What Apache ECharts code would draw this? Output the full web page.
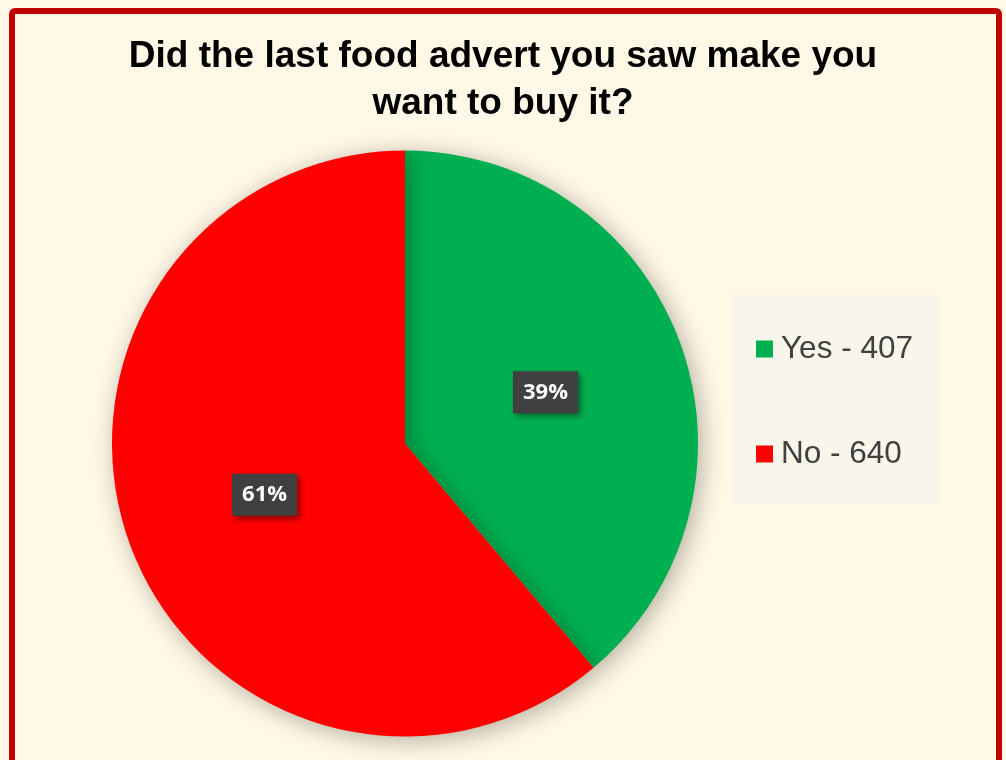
<!DOCTYPE html>
<html>
<head>
<meta charset="utf-8">
<script src="https://cdn.jsdelivr.net/npm/echarts@6/dist/echarts.min.js"></script>
<style>
html,body{margin:0;padding:0;background:#FFF8E6;}
#chart{width:1006px;height:760px;}
</style>
</head>
<body>
<div id="chart"></div>
<script>
const titleText = 'Did the last food advert you saw make you\nwant to buy it?';
const categories = ['Yes', 'No'];
const values = [407, 640];
const colors = ['#00B050', '#FF0000'];

const chart = echarts.init(document.getElementById('chart'), null, {renderer: 'canvas'});
const valueByName = {};
categories.forEach((c, i) => valueByName[c] = values[i]);

chart.setOption({
  animation: false,
  backgroundColor: '#FFF8E6',
  title: {
    text: titleText,
    left: 'center',
    top: 28,
    textStyle: {
      fontFamily: 'Liberation Sans',
      fontWeight: 'bold',
      fontSize: 37,
      lineHeight: 47,
      color: '#000000'
    }
  },
  legend: {
    orient: 'vertical',
    left: 731,
    top: 294,
    padding: [39, 26, 35, 25],
    backgroundColor: '#F8F5EA',
    itemWidth: 17,
    itemHeight: 17,
    itemGap: 73,
    icon: 'rect',
    selectedMode: false,
    formatter: name => name + ' - ' + valueByName[name],
    textStyle: {
      fontFamily: 'Liberation Sans',
      fontSize: 31.5,
      lineHeight: 30,
      color: '#404040',
      padding: [0, 0, 0, 3]
    },
    data: categories
  },
  graphic: [{
    type: 'rect',
    z: 100,
    silent: true,
    shape: {x: 12, y: 11, width: 987, height: 800, r: 3},
    style: {fill: 'none', stroke: '#C00000', lineWidth: 6}
  }],
  series: [{
    type: 'pie',
    center: [405, 443.5],
    radius: 293,
    startAngle: 90,
    clockwise: true,
    percentPrecision: 0,
    silent: true,
    emphasis: {disabled: true},
    itemStyle: {
      shadowBlur: 25,
      shadowColor: 'rgba(0,0,0,0.3)',
      shadowOffsetX: 4,
      shadowOffsetY: 4
    },
    label: {
      show: true,
      position: 'inside',
      formatter: '{d}%',
      color: '#FFFFFF',
      fontFamily: 'Open Sans',
      fontWeight: 'bold',
      fontSize: 22,
      lineHeight: 26,
      backgroundColor: '#404040',
      padding: [9, 10, 7, 10],
      shadowColor: 'rgba(0,0,0,0.45)',
      shadowBlur: 6,
      shadowOffsetX: 3,
      shadowOffsetY: 3
    },
    labelLine: {show: false},
    data: categories.map((c, i) => ({name: c, value: values[i], itemStyle: {color: colors[i]}}))
  }]
});
</script>
</body>
</html>
